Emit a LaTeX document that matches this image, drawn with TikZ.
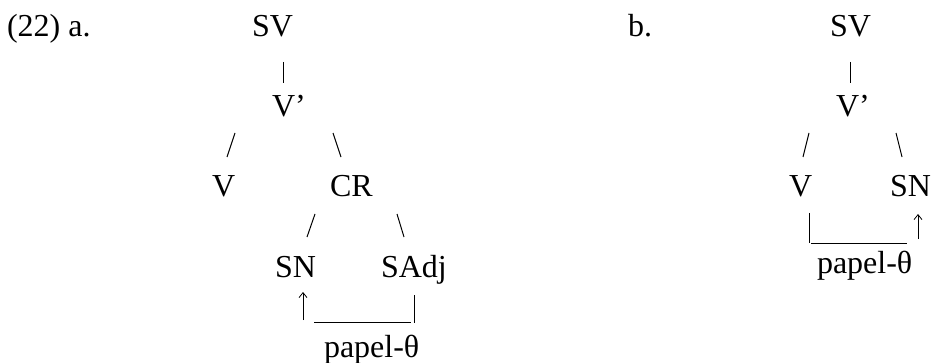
\documentclass[tikz,border=0pt]{standalone}
\usepackage{fontspec}
\setmainfont{Liberation Serif}
\usetikzlibrary{arrows.meta}
\tikzset{
  lbl/.style={inner sep=0pt, outer sep=0pt, anchor=base west, font=\fontsize{32}{38}\selectfont},
  branch/.style={line width=1pt},
  bar/.style={line width=0.9pt},
  uparrow/.style={line width=0.8pt, -{Straight Barb[length=5pt,width=8pt,line width=0.8pt]}}
}
\begin{document}
\begin{tikzpicture}[x=1pt,y=-1pt]
\useasboundingbox (0,0) rectangle (933,363);
% ---------- tree a ----------
\node[lbl] (num) at (7,37) {(22) a.};
\node[lbl] (aSV) at (252,37) {SV};
\node[lbl] (aVb) at (272,117) {V’};
\node[lbl] (aV) at (212,197) {V};
\node[lbl] (aCR) at (330,197) {CR};
\node[lbl] (aSN) at (275,277) {SN};
\node[lbl] (aSAdj) at (381,277) {SAdj};
\node[lbl] (aTheta) at (324,357) {papel-θ};
\coordinate (a1s) at (283,62);  \coordinate (a1e) at (283,83);
\coordinate (a2s) at (235,133); \coordinate (a2e) at (227,157);
\coordinate (a3s) at (333,133); \coordinate (a3e) at (341,157);
\coordinate (a4s) at (315,214); \coordinate (a4e) at (307,237);
\coordinate (a5s) at (397,214); \coordinate (a5e) at (404,237);
\coordinate (aArS) at (303,320); \coordinate (aArE) at (303,292);
\coordinate (aLnS) at (314,322); \coordinate (aLnE) at (411,322);
\coordinate (aBrS) at (414,295); \coordinate (aBrE) at (414,323);
\draw[bar] (a1s) -- (a1e);
\draw[branch] (a2s) -- (a2e);
\draw[branch] (a3s) -- (a3e);
\draw[branch] (a4s) -- (a4e);
\draw[branch] (a5s) -- (a5e);
\draw[uparrow] (aArS) -- (aArE);
\draw[bar] (aLnS) -- (aLnE);
\draw[bar] (aBrS) -- (aBrE);
% ---------- tree b ----------
\node[lbl] (lb) at (628,37) {b.};
\node[lbl] (bSV) at (830,37) {SV};
\node[lbl] (bVb) at (836,117) {V’};
\node[lbl] (bV) at (789,197) {V};
\node[lbl] (bSN) at (890,197) {SN};
\node[lbl] (bTheta) at (817,273) {papel-θ};
\coordinate (b1s) at (850,62);  \coordinate (b1e) at (850,83);
\coordinate (b2s) at (809,133); \coordinate (b2e) at (803,157);
\coordinate (b3s) at (896,133); \coordinate (b3e) at (902,157);
\coordinate (bBrS) at (809,213); \coordinate (bBrE) at (809,243);
\coordinate (bLnS) at (811,243); \coordinate (bLnE) at (907,243);
\coordinate (bArS) at (918,239); \coordinate (bArE) at (918,214);
\draw[bar] (b1s) -- (b1e);
\draw[branch] (b2s) -- (b2e);
\draw[branch] (b3s) -- (b3e);
\draw[bar] (bBrS) -- (bBrE);
\draw[bar] (bLnS) -- (bLnE);
\draw[uparrow] (bArS) -- (bArE);
\end{tikzpicture}
\end{document}
